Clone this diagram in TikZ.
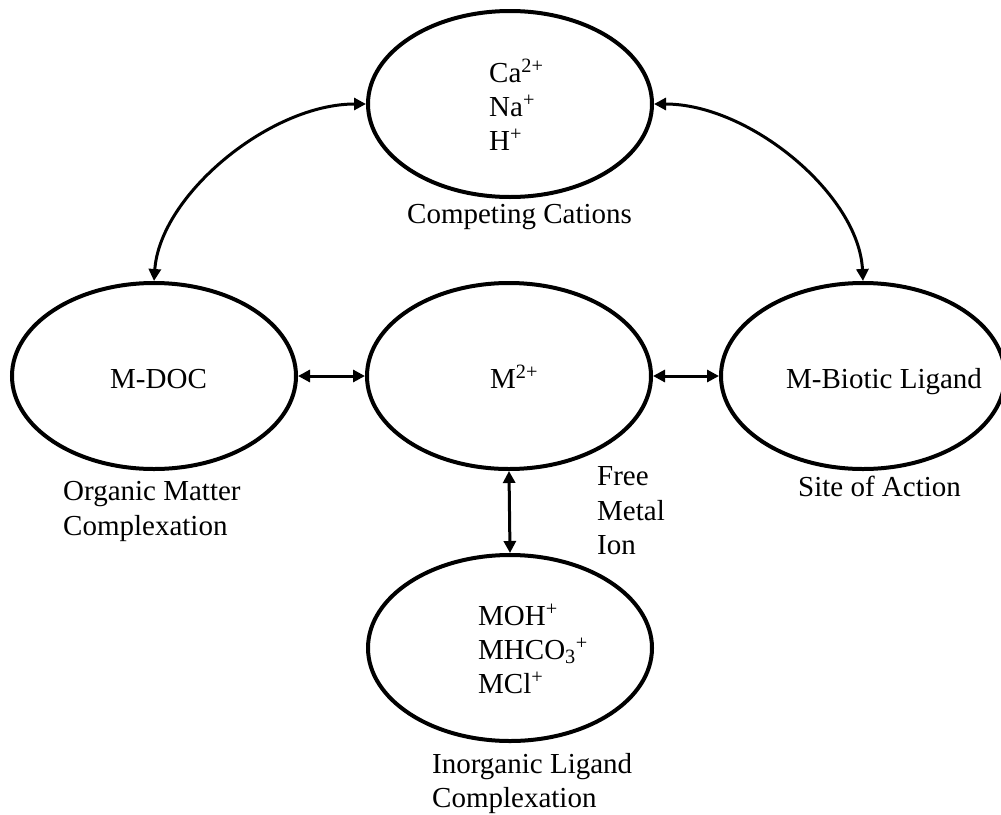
\documentclass[tikz,border=0pt]{standalone}
\usepackage{fontspec}
\setmainfont{Liberation Serif}
\usetikzlibrary{shapes.geometric,arrows.meta}
\begin{document}
\begin{tikzpicture}[x=1pt,y=-1pt,
  blob/.style={draw,ellipse,line width=4pt,minimum width=284pt,minimum height=186pt,inner sep=0pt},
  lbl/.style={inner sep=0pt,anchor=base west,font=\fontsize{29}{34}\selectfont},
  arr/.style={line width=3pt,{Triangle[length=12pt,width=12pt]}-{Triangle[length=12pt,width=12pt]}}]
\useasboundingbox (0,0) rectangle (1001,814);
% ellipses
\node[blob] (top) at (510,104) {};
\node[blob] (mdoc) at (154,376) {};
\node[blob] (m) at (509,376) {};
\node[blob] (bl) at (863,376) {};
\node[blob] (inorg) at (510,648) {};
% texts
\node[lbl] (ca) at (489,82) {Ca\textsuperscript{2+}};
\node[lbl] (na) at (489,116) {Na\textsuperscript{+}};
\node[lbl] (h) at (489,150) {H\textsuperscript{+}};
\node[lbl] (cc) at (407,223) {Competing Cations};
\node[lbl] (tdoc) at (110,388) {M-DOC};
\node[lbl] (tm) at (490,388) {M\textsuperscript{2+}};
\node[lbl] (tbl) at (786,388) {M-Biotic Ligand};
\node[lbl] (om1) at (63,500) {Organic Matter};
\node[lbl] (om2) at (63,535) {Complexation};
\node[lbl] (soa) at (798,496) {Site of Action};
\node[lbl] (f1) at (597,485) {Free};
\node[lbl] (f2) at (597,520) {Metal};
\node[lbl] (f3) at (597,554) {Ion};
\node[lbl] (moh) at (478,625) {MOH\textsuperscript{+}};
\node[lbl] (mhco) at (478,659) {MHCO\textsubscript{3}\textsuperscript{+}};
\node[lbl] (mcl) at (478,693) {MCl\textsuperscript{+}};
\node[lbl] (il1) at (432,773) {Inorganic Ligand};
\node[lbl] (il2) at (432,807) {Complexation};
% connectors
\draw[arr] (top.west) .. controls +(-96,0) and +(6,-86) .. (mdoc.north);
\draw[arr] (top.east) .. controls +(96,0) and +(-4,-86) .. (bl.north);
\draw[arr] (mdoc.east) -- (m.west);
\draw[arr] (m.east) -- (bl.west);
\draw[arr] (m.south) -- (inorg.north);
\end{tikzpicture}
\end{document}
